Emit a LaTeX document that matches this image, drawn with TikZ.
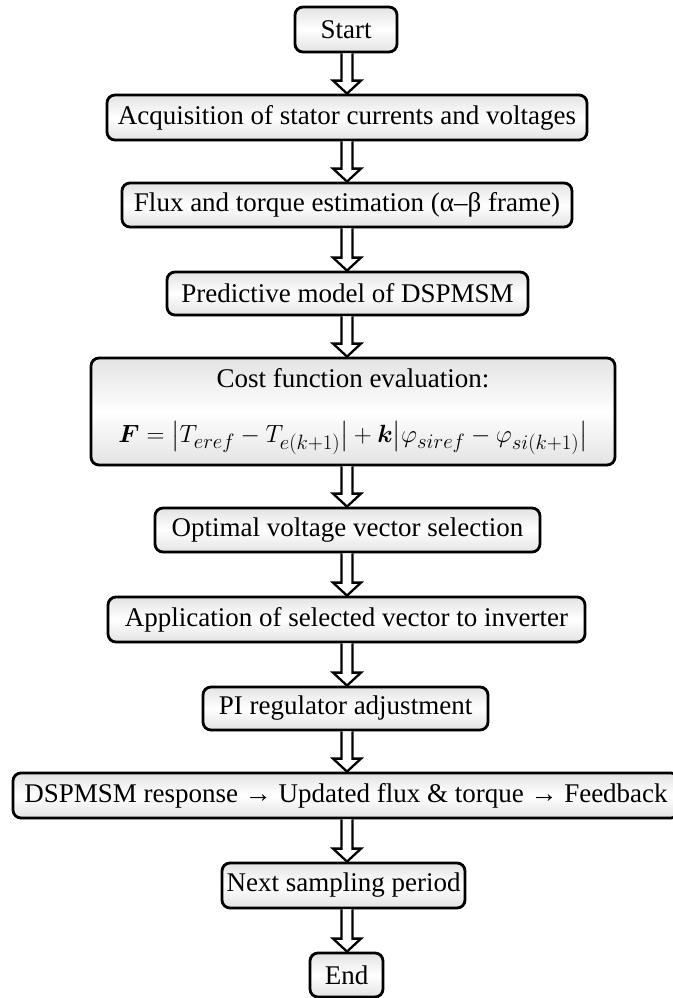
\documentclass[tikz,border=0pt]{standalone}
\usepackage{fontspec}
\setmainfont{Liberation Serif}
\usepackage{amsmath,bm}
\usetikzlibrary{shadows,calc}

\begin{document}
\begin{tikzpicture}[x=1pt, y=-1pt,
  stepbox/.style={draw, line width=2.8pt, rounded corners=8pt, inner sep=0pt,
    minimum height=45pt, top color=black!11, bottom color=black!11, middle color=white,
    drop shadow={opacity=0.22, shadow xshift=0pt, shadow yshift=-1.5pt},
    font=\fontsize{27}{32}\selectfont},
  flowarrow/.style={draw, fill=white, line width=2.3pt, line join=miter}]
\useasboundingbox (0,0) rectangle (672,998);
\coordinate (axis) at (347,0);
\node[stepbox, minimum width=102pt] (start) at (346,29.5) {Start};
\node[stepbox, minimum width=480pt] (acq) at (347,117.5) {Acquisition of stator currents and voltages};
\node[stepbox, minimum width=450pt, minimum height=44pt] (flux) at (347,205) {Flux and torque estimation (α–β frame)};
\node[stepbox, minimum width=361pt, minimum height=43pt] (pred) at (347.5,293.5) {Predictive model of DSPMSM};
\node[stepbox, minimum width=524pt, minimum height=107pt, align=center] (cost) at (353,411.5)
  {Cost function evaluation:\\[23pt]
   {\fontsize{31.5}{36}\selectfont
   $\boldsymbol{F} = \bigl|T_{eref} - T_{e(k+1)}\bigr| + \boldsymbol{k}\bigl|\varphi_{siref} - \varphi_{si(k+1)}\bigr|$}};
\node[stepbox, minimum width=385pt, minimum height=44pt] (opt) at (347.5,530) {Optimal voltage vector selection};
\node[stepbox, minimum width=477pt] (appl) at (346.5,619.5) {Application of selected vector to inverter};
\node[stepbox, minimum width=285pt, minimum height=43pt] (pi) at (345.5,708.5) {PI regulator adjustment};
\node[stepbox, minimum width=666pt] (resp) at (346,795.5) {DSPMSM response → Updated flux \& torque → Feedback};
\node[stepbox, minimum width=243pt] (next) at (343.5,885.5) {Next sampling period};
\node[stepbox, minimum width=73pt, minimum height=44pt] (finish) at (346.5,975) {End};
% hollow arrows between the steps
\foreach \a/\b in {start/acq, acq/flux, flux/pred, pred/cost, cost/opt, opt/appl, appl/pi, pi/resp, resp/next, next/finish}
  \draw[flowarrow] ($(\a.south -| axis)+(-5.5,0)$) -- ($(\b.north -| axis)+(-5.5,-13)$)
    -- ($(\b.north -| axis)+(-14,-13)$) -- (\b.north -| axis) -- ($(\b.north -| axis)+(14,-13)$)
    -- ($(\b.north -| axis)+(5.5,-13)$) -- ($(\a.south -| axis)+(5.5,0)$);
\end{tikzpicture}
\end{document}
